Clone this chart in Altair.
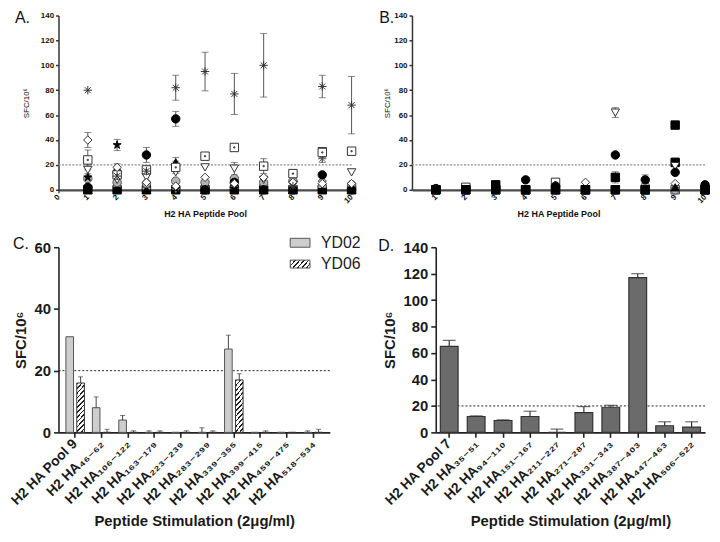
import altair as alt
import pandas as pd

FONT = "Liberation Sans"
LABEL_FONT = "Liberation Sans, DejaVu Sans"

# ---------------- shared ----------------
pools = [1, 2, 3, 4, 5, 6, 7, 8, 9, 10]
threshold = 20

# ---------------- Panel A : values per pool (1..10) ----------------
a_black_square = [0, 0, 0, 0, 0, 0, 0, 0, 0, 0]
a_grey_diamond = [2, 3, 1, 1, 2, 2, 4, 3, 7, 2]
a_grey_asterisk = [1, 5, 2, 1, 1, 1, 1, 1, 25, 1]
a_grey_asterisk_err = [0, 0, 0, 0, 0, 0, 0, 0, 3, 0]
a_black_triangle = [0, 2, 0, 22, 0, 0, 0, 0, 1, 0]
a_black_triangle_err = [0, 0, 0, 4, 0, 0, 0, 0, 0, 0]
a_grey_circle = [9, 6, 5, 7, 6, 9, 6, 7, 3, 4]
a_grey_circle_err = [2, 0, 2, 0, 0, 0, 0, 0, 0, 0]
a_black_circle = [2, 14, 28, 57, 0, 6, 0, 0, 12, 0]
a_black_circle_err = [0, 2, 6, 6, 0, 0, 0, 0, 0, 0]
a_black_star = [10, 36, 14, 1, 0, 1, 0, 0, 0, 0]
a_black_star_err = [0, 4.5, 2, 0, 0, 0, 0, 0, 0, 0]
a_open_triangle = [16, 8, 10, 14, 18, 17, 8, 4, 31, 14]
a_open_triangle_err = [3, 5, 0, 0, 0, 5, 0, 0, 2, 0]
a_open_square = [24, 12, 16, 18, 27, 34, 19, 13, 30, 31]
a_open_square_err = [8, 3, 2, 5, 2, 0, 6, 0, 4, 3]
a_open_diamond = [40, 18, 6, 3, 10, 5, 10, 6, 5, 5]
a_open_diamond_err = [6, 3, 0, 0, 0, 0, 0, 0, 2, 0]
a_asterisk = [80, 11, 15, 82, 95, 77, 100, 3, 83, 68]
a_asterisk_err = [0, 2, 3, 10, 15.5, 16.5, 25.5, 0, 9, 23]
no_err = [0, 0, 0, 0, 0, 0, 0, 0, 0, 0]

# ---------------- Panel B : values per pool (1..10) ----------------
b_open_square = [0, 2, 0, 0, 6, 0, 0, 0, 0, 0]
b_open_diamond = [0, 0, 0, 0, 0, 6, 0, 0, 5, 0]
b_open_circle = [0, 0, 0, 0, 0, 0, 10, 0, 22, 0]
b_open_circle_err = [0, 0, 0, 0, 0, 0, 4.5, 0, 3.5, 0]
b_open_triangle = [0, 0, 0, 0, 0, 0, 62, 0, 19, 0]
b_open_triangle_err = [0, 0, 0, 0, 0, 0, 4, 0, 0, 0]
b_grey_circle = [0, 0, 0, 0, 0, 0, 0, 3, 0, 0]
b_black_triangle = [0, 0, 0, 0, 0, 0, 0, 0, 2, 0]
b_black_circle = [1, 0, 0, 8, 3, 0, 28, 8, 14, 4]
b_black_circle_err = [0, 0, 0, 0, 0, 0, 0, 4, 0, 0]
b_black_square = [0, 0, 4, 0, 0, 0, 0, 0, 52, 0]

# ---------------- Panel C ----------------
c_cats = ["H2 HA Pool 9", "H2 HA₄₆₋₆₂", "H2 HA₁₀₆₋₁₂₂", "H2 HA₁₆₃₋₁₇₉", "H2 HA₂₂₃₋₂₃₉",
          "H2 HA₂₈₃₋₂₉₉", "H2 HA₃₃₉₋₃₅₅", "H2 HA₃₉₉₋₄₁₅", "H2 HA₄₅₉₋₄₇₅", "H2 HA₅₁₈₋₅₃₄"]
c_groups = ["YD02", "YD06"]
c_yd02 = [31, 8, 4, 0, 0, 0, 27, 0, 0, 0]
c_yd02_err = [0, 3.5, 1.5, 0.5, 0, 1.5, 4.5, 0, 0, 0.5]
c_yd06 = [16, 0, 0, 0, 0, 0, 17, 0, 0, 0]
c_yd06_err = [2, 1, 0.5, 0.5, 0.5, 0.5, 2, 0.5, 0, 1]

# ---------------- Panel D ----------------
d_cats = ["H2 HA Pool 7", "H2 HA₃₅₋₅₁", "H2 HA₉₄₋₁₁₀", "H2 HA₁₅₁₋₁₆₇", "H2 HA₂₁₁₋₂₂₇",
          "H2 HA₂₇₁₋₂₈₇", "H2 HA₃₃₁₋₃₄₃", "H2 HA₃₈₇₋₄₀₃", "H2 HA₄₄₇₋₄₆₃", "H2 HA₅₀₆₋₅₂₂"]
d_values = [65, 12, 9, 12, 0, 15, 19, 117, 5, 4]
d_err = [4.5, 0.5, 0.5, 4, 2.5, 4.5, 1.5, 3, 3, 4]

# ---------------- marker styles ----------------
STAR = ("M0,-1L0.225,-0.31L0.951,-0.309L0.363,0.118L0.588,0.809L0,0.382"
        "L-0.588,0.809L-0.363,0.118L-0.951,-0.309L-0.225,-0.31Z")
ASTER = "M-1,0L1,0M0,-1L0,1M-0.7,-0.7L0.7,0.7M-0.7,0.7L0.7,-0.7"
SQDOT = "M-1,-1L1,-1L1,1L-1,1ZM-0.14,-0.14L0.14,-0.14L0.14,0.14L-0.14,0.14Z"
STYLE = {
    "black square": ("square", "black", "black"),
    "black circle": ("circle", "black", "black"),
    "grey circle": ("circle", "#b4b4b4", "#555555"),
    "grey diamond": ("diamond", "#b4b4b4", "#555555"),
    "black triangle": ("triangle-up", "black", "black"),
    "black star": (STAR, "black", "black"),
    "open triangle": ("triangle-down", "white", "#333333"),
    "open square": (SQDOT, "white", "#333333"),
    "open diamond": ("diamond", "white", "#333333"),
    "open circle": ("circle", "white", "#333333"),
    "asterisk": (ASTER, "black", "#333333"),
    "grey asterisk": (ASTER, "#555555", "#555555"),
}

A_SERIES = [
    ("black square", a_black_square, no_err),
    ("grey diamond", a_grey_diamond, no_err),
    ("grey asterisk", a_grey_asterisk, a_grey_asterisk_err),
    ("black triangle", a_black_triangle, a_black_triangle_err),
    ("grey circle", a_grey_circle, a_grey_circle_err),
    ("black circle", a_black_circle, a_black_circle_err),
    ("black star", a_black_star, a_black_star_err),
    ("open triangle", a_open_triangle, a_open_triangle_err),
    ("open square", a_open_square, a_open_square_err),
    ("open diamond", a_open_diamond, a_open_diamond_err),
    ("asterisk", a_asterisk, a_asterisk_err),
]
B_SERIES = [
    ("open square", b_open_square, no_err),
    ("open diamond", b_open_diamond, no_err),
    ("open circle", b_open_circle, b_open_circle_err),
    ("open triangle", b_open_triangle, b_open_triangle_err),
    ("grey circle", b_grey_circle, no_err),
    ("black triangle", b_black_triangle, no_err),
    ("black circle", b_black_circle, b_black_circle_err),
    ("black square", b_black_square, no_err),
]


def panel_label(text, dx, dy):
    return alt.Chart(pd.DataFrame({"t": [text]})).mark_text(
        align="left", baseline="middle", font=FONT, fontSize=16, color="#111"
    ).encode(text="t:N", x=alt.value(dx), y=alt.value(dy))


def scatter_panel(series, label, label_dx, title_pad, xdomain, xticks, width, height):
    rows = []
    order = []
    for i, (name, vals, errs) in enumerate(series):
        order.append(name)
        for p, v, e in zip(pools, vals, errs):
            rows.append({"series": name, "ord": i, "pool": p, "value": v,
                         "lo": max(v - e, 0), "hi": v + e, "err": e})
    df = pd.DataFrame(rows)
    xaxis = alt.Axis(values=xticks, title="H2 HA Peptide Pool", labelAngle=-45,
                     labelAlign="right", labelBaseline="middle", labelFont=FONT,
                     labelFontSize=8, labelFontWeight="bold", labelPadding=3,
                     titleFont=FONT, titleFontSize=9, titleFontWeight="bold",
                     titlePadding=5, domainColor="#4a4a4a", domainWidth=2.2,
                     tickColor="#4a4a4a", tickWidth=1.5, tickSize=3, grid=False,
                     labelColor="#111", titleColor="#111")
    yaxis = alt.Axis(values=[0, 20, 40, 60, 80, 100, 120, 140], title="SFC/10⁶",
                     labelFont=FONT, labelFontSize=8, labelFontWeight="bold",
                     labelPadding=2, titleFont=FONT, titleFontSize=8,
                     titleFontWeight="normal", titlePadding=title_pad,
                     domainColor="#333", domainWidth=1.5, tickColor="#333",
                     tickWidth=1.5, tickSize=3, grid=False, labelColor="#111",
                     titleColor="#111")
    xs = alt.Scale(domain=xdomain, nice=False, zero=False)
    ys = alt.Scale(domain=[0, 140], nice=False)
    x = alt.X("pool:Q", scale=xs, axis=xaxis)
    base = alt.Chart(df)
    thr = alt.Chart(pd.DataFrame({"t": [threshold]})).mark_rule(
        color="#8a8a8a", strokeDash=[2, 1.5], strokeWidth=1.3
    ).encode(y=alt.Y("t:Q", scale=ys, axis=yaxis))
    err = base.transform_filter("datum.err > 0").mark_rule(
        color="#555", strokeWidth=1).encode(
        x=x, y=alt.Y("lo:Q", scale=ys, axis=yaxis), y2="hi:Q")
    caps = base.transform_filter("datum.err > 0").transform_fold(
        ["lo", "hi"], as_=["end", "ypos"]).mark_tick(
        orient="horizontal", size=7, thickness=1, color="#555").encode(
        x=x, y=alt.Y("ypos:Q", scale=ys, axis=yaxis))
    pts = base.mark_point(filled=True, size=72, strokeWidth=1, opacity=1).encode(
        x=x, y=alt.Y("value:Q", scale=ys, axis=yaxis),
        shape=alt.Shape("series:N", scale=alt.Scale(domain=order, range=[STYLE[n][0] for n in order]), legend=None),
        fill=alt.Fill("series:N", scale=alt.Scale(domain=order, range=[STYLE[n][1] for n in order]), legend=None),
        stroke=alt.Stroke("series:N", scale=alt.Scale(domain=order, range=[STYLE[n][2] for n in order]), legend=None),
        order=alt.Order("ord:Q"),
    )
    lab = panel_label(label, label_dx, 3)
    return alt.layer(thr, err, caps, pts, lab).properties(width=width, height=height)


def stripes(n, duty, dark="#222222", light="white"):
    stops = []
    for i in range(n):
        a = i / n
        b = (i + duty) / n
        c = (i + 1) / n
        stops += [{"offset": a, "color": dark}, {"offset": b, "color": dark},
                  {"offset": b, "color": light}, {"offset": c, "color": light}]
    return stops


HATCH_BAR = {"gradient": "linear", "x1": 0, "y1": 0, "x2": 0.19, "y2": 1.14,
             "stops": stripes(12, 0.35)}
HATCH_KEY = {"gradient": "linear", "x1": 0, "y1": 0, "x2": 1.2, "y2": 0.42,
             "stops": stripes(6, 0.35)}

BIG_Y = dict(labelFont=FONT, labelFontSize=15, labelFontWeight="bold", labelPadding=3,
             titleFont=FONT, titleFontSize=15, titleFontWeight="bold", titlePadding=6,
             domainColor="#222", domainWidth=1.6, tickColor="#222", tickWidth=1.6,
             tickSize=5, grid=False, labelColor="#1a1a1a", titleColor="#1a1a1a")
BIG_X = dict(labelAngle=-45, labelAlign="right", labelBaseline="middle", labelFont=LABEL_FONT,
             labelFontSize=14, labelFontWeight="bold", labelPadding=4, titleFont=FONT,
             titleFontSize=15, titleFontWeight="bold", titlePadding=6,
             domainColor="#222", domainWidth=1.6, tickColor="#222", tickWidth=1.6,
             tickSize=5, grid=False, labelColor="#1a1a1a", titleColor="#1a1a1a",
             title="Peptide Stimulation  (2μg/ml)")


def panel_c(width, height):
    rows = []
    for cat, v1, e1, v2, e2 in zip(c_cats, c_yd02, c_yd02_err, c_yd06, c_yd06_err):
        rows.append({"cat": cat, "group": "YD02", "value": v1, "hi": v1 + e1, "err": e1})
        rows.append({"cat": cat, "group": "YD06", "value": v2, "hi": v2 + e2, "err": e2})
    df = pd.DataFrame(rows)
    xs = alt.Scale(domain=c_cats, paddingInner=0.3, paddingOuter=0.28)
    x = alt.X("cat:N", sort=c_cats, scale=xs, axis=alt.Axis(**BIG_X))
    xo = alt.XOffset("group:N", scale=alt.Scale(domain=c_groups, paddingInner=0.3))
    ys = alt.Scale(domain=[0, 60], nice=False)
    yaxis = alt.Axis(values=[0, 20, 40, 60], title="SFC/10⁶", **BIG_Y)
    base = alt.Chart(df)
    thr = alt.Chart(pd.DataFrame({"t": [threshold]})).mark_rule(
        color="#222", strokeDash=[2, 2], strokeWidth=1).encode(
        y=alt.Y("t:Q", scale=ys, axis=yaxis))
    b1 = base.transform_filter("datum.group == 'YD02'").mark_bar(
        fill="#cdcdcd", stroke="#555", strokeWidth=1).encode(
        x=x, xOffset=xo, y=alt.Y("value:Q", scale=ys, axis=yaxis))
    b2 = base.transform_filter("datum.group == 'YD06'").mark_bar(
        fill=HATCH_BAR, stroke="#333", strokeWidth=1).encode(
        x=x, xOffset=xo, y=alt.Y("value:Q", scale=ys, axis=yaxis))
    eb = base.transform_filter("datum.err > 0").mark_rule(color="#444", strokeWidth=1).encode(
        x=x, xOffset=xo, y=alt.Y("value:Q", scale=ys, axis=yaxis), y2="hi:Q")
    cap = base.transform_filter("datum.err > 0").mark_tick(
        orient="horizontal", size=5, thickness=1, color="#444").encode(
        x=x, xOffset=xo, y=alt.Y("hi:Q", scale=ys, axis=yaxis))
    leg = pd.DataFrame({"g": c_groups})
    k1 = alt.Chart(leg).transform_filter("datum.g == 'YD02'").mark_rect(
        fill="#cdcdcd", stroke="#555", strokeWidth=1).encode(
        x=alt.value(234), x2=alt.value(254), y=alt.value(-9), y2=alt.value(0))
    k2 = alt.Chart(leg).transform_filter("datum.g == 'YD06'").mark_rect(
        fill=HATCH_KEY, stroke="#555", strokeWidth=1).encode(
        x=alt.value(234), x2=alt.value(254), y=alt.value(13), y2=alt.value(21))
    kt1 = alt.Chart(leg).transform_filter("datum.g == 'YD02'").mark_text(
        align="left", baseline="middle", font=FONT, fontSize=16, color="#222").encode(
        text="g:N", x=alt.value(265), y=alt.value(-4))
    kt2 = alt.Chart(leg).transform_filter("datum.g == 'YD06'").mark_text(
        align="left", baseline="middle", font=FONT, fontSize=16, color="#222").encode(
        text="g:N", x=alt.value(265), y=alt.value(17))
    lab = panel_label("C.", -46, -3)
    return alt.layer(thr, b1, b2, eb, cap, k1, k2, kt1, kt2, lab).properties(width=width, height=height)


def panel_d(width, height):
    df = pd.DataFrame({"cat": d_cats, "value": d_values,
                       "hi": [v + e for v, e in zip(d_values, d_err)], "err": d_err})
    xs = alt.Scale(domain=d_cats, paddingInner=0.34, paddingOuter=0.17)
    x = alt.X("cat:N", sort=d_cats, scale=xs, axis=alt.Axis(**BIG_X))
    ys = alt.Scale(domain=[0, 140], nice=False)
    yaxis = alt.Axis(values=[0, 20, 40, 60, 80, 100, 120, 140], title="SFC/10⁶", **BIG_Y)
    base = alt.Chart(df)
    thr = alt.Chart(pd.DataFrame({"t": [threshold]})).mark_rule(
        color="#222", strokeDash=[2, 2], strokeWidth=1).encode(
        y=alt.Y("t:Q", scale=ys, axis=yaxis))
    bars = base.mark_bar(fill="#6b6b6b", stroke="#333", strokeWidth=1.2).encode(
        x=x, y=alt.Y("value:Q", scale=ys, axis=yaxis))
    eb = base.mark_rule(color="#333", strokeWidth=1.2).encode(
        x=x, y=alt.Y("value:Q", scale=ys, axis=yaxis), y2="hi:Q")
    cap = base.mark_tick(orient="horizontal", size=13, thickness=1.2, color="#333").encode(
        x=x, y=alt.Y("hi:Q", scale=ys, axis=yaxis))
    lab = panel_label("D.", -58, -1)
    return alt.layer(thr, bars, eb, cap, lab).properties(width=width, height=height)


A = scatter_panel(A_SERIES, "A.", -44, 10, [0, 10], [0, 1, 2, 3, 4, 5, 6, 7, 8, 9, 10], 296, 176)
B = scatter_panel(B_SERIES, "B.", -33, 2, [0.2, 10.0], [1, 2, 3, 4, 5, 6, 7, 8, 9, 10], 296, 176)
C = panel_c(274, 187)
D = panel_d(272, 187)

chart = alt.vconcat(
    alt.hconcat(A, B, spacing=21),
    alt.hconcat(C, D, spacing=17),
    spacing=16,
).properties(
    padding=0, background="white"
).configure_view(stroke=None)

chart.save("out.html", embed_options={"renderer": "svg", "actions": False})
